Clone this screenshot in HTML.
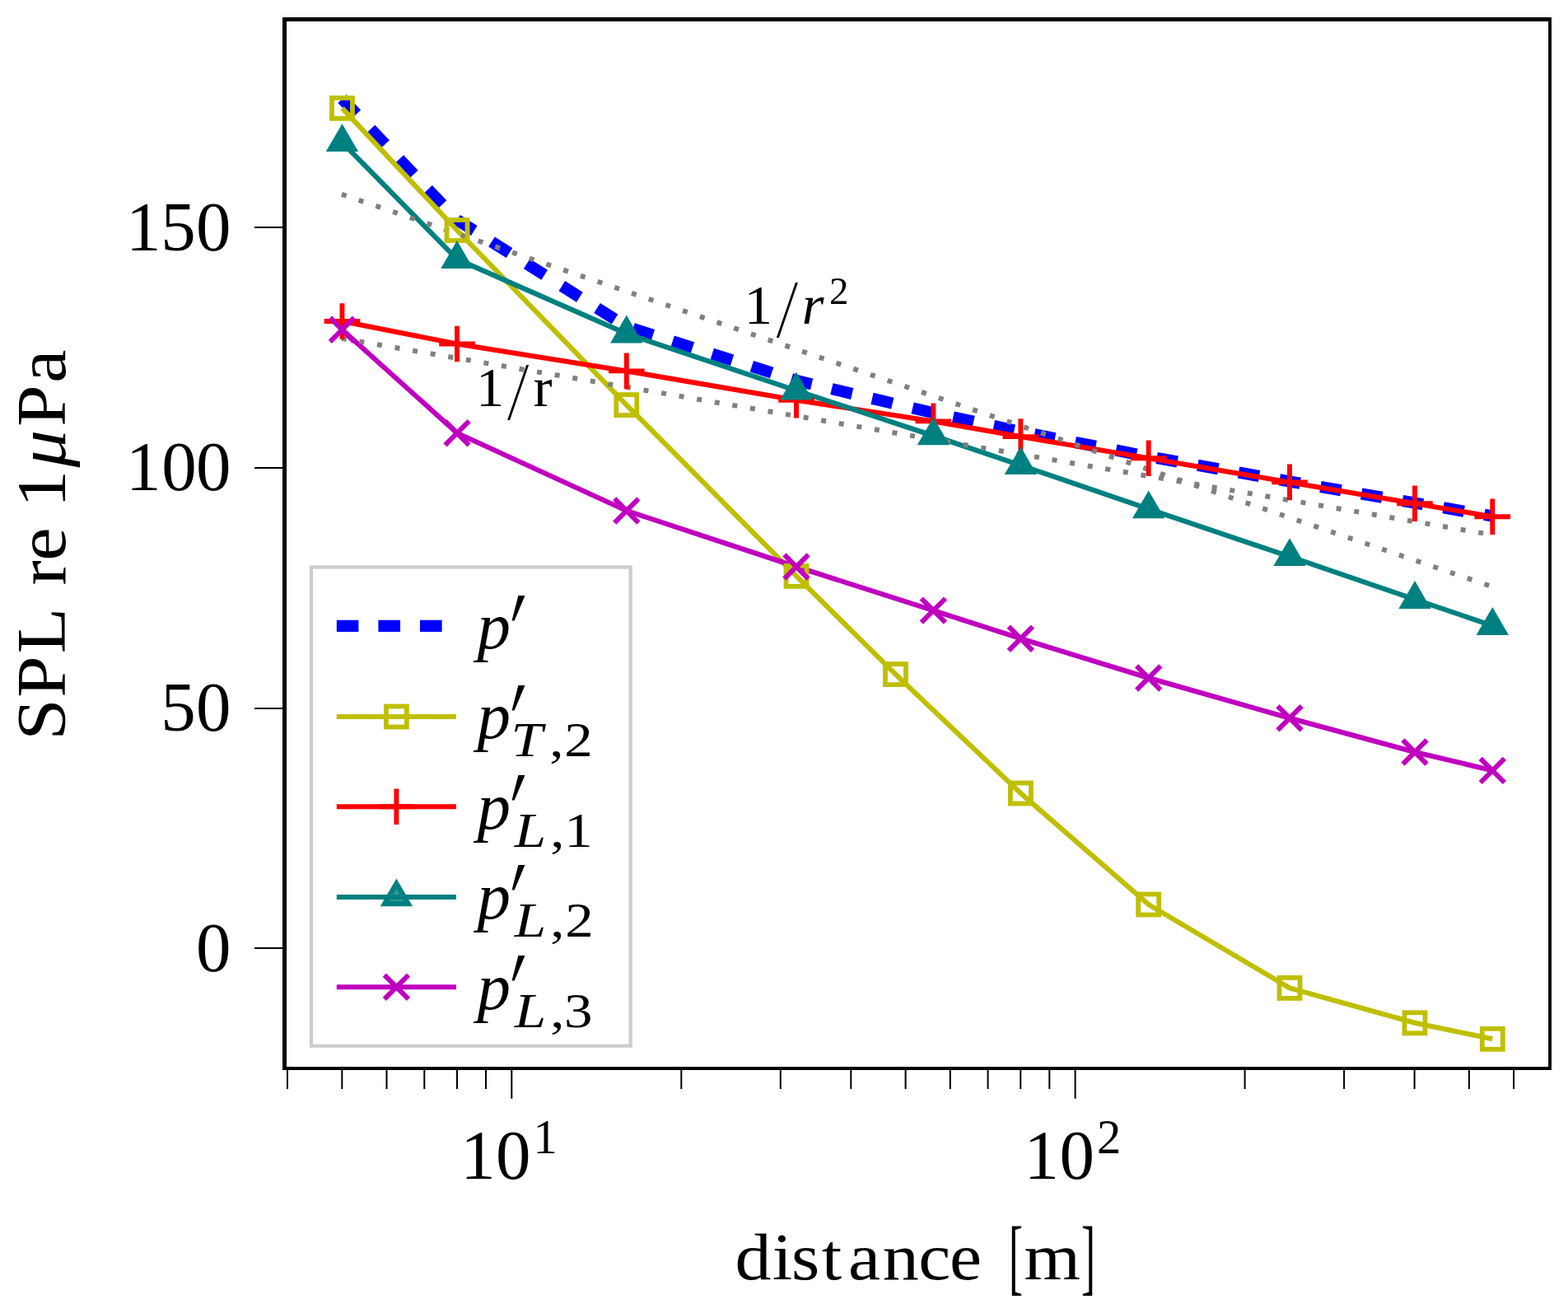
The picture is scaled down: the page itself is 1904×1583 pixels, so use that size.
<!DOCTYPE html>
<html lang="en"><head><meta charset="utf-8">
<style>html,body{margin:0;padding:0;background:#fff}body{width:1904px;height:1583px;overflow:hidden}svg{display:block}text{font-family:"Liberation Serif","DejaVu Serif",serif;fill:#000;white-space:pre}.i{font-style:italic}</style>
</head><body>
<svg width="1904" height="1583" viewBox="0 0 1904 1583">
<rect width="1904" height="1583" fill="#fff"/>
<g fill="none" stroke-linejoin="miter" stroke-linecap="butt">
<polyline points="415.45,120 555,267 760.8,396.5 967,462 1133.4,501.3 1239.4,524 1394.7,554.3 1566,584.5 1718,610.5 1812.3,626.5" stroke="#0000ff" stroke-width="14.2" stroke-dasharray="25.45 25.0"/>
<polyline points="415.45,131.4 555,279.5 760.8,491.6 967,699.4 1087.5,818.6 1239.4,963 1394.7,1098 1566,1199.4 1718,1241.8 1812.3,1261.3" stroke="#bfbf00" stroke-width="6.1"/>
<polyline points="415.45,390 555,417.5 760.8,450.4 967,485.7 1133.4,511.4 1239.4,530.1 1394.7,556.2 1566,585.4 1718,611.2 1812.3,627.2" stroke="#ff0000" stroke-width="6.1"/>
<polyline points="415.45,172.8 555,314.6 760.8,405.1 967,474.1 1133.4,529 1239.4,564.8 1394.7,617.9 1566,675.7 1718,727.6 1812.3,759.6" stroke="#008080" stroke-width="6.1"/>
<polyline points="415.45,400.3 555,525.7 760.8,620 967,688 1133.4,741.1 1239.4,775.2 1394.7,823 1566,871.8 1718,913 1812.3,935.4" stroke="#bf00bf" stroke-width="6.1"/>
<line x1="414.96" y1="235.83" x2="1812.3" y2="712.32" stroke="#808080" stroke-width="6" stroke-dasharray="6 15.88"/>
<line x1="414.84" y1="410.9" x2="1812.3" y2="649.3" stroke="#808080" stroke-width="6" stroke-dasharray="6 15.88"/>
<rect x="402.95" y="118.9" width="25" height="25" stroke="#bfbf00" stroke-width="5.8"/><rect x="542.5" y="267" width="25" height="25" stroke="#bfbf00" stroke-width="5.8"/><rect x="748.3" y="479.1" width="25" height="25" stroke="#bfbf00" stroke-width="5.8"/><rect x="954.5" y="686.9" width="25" height="25" stroke="#bfbf00" stroke-width="5.8"/><rect x="1075" y="806.1" width="25" height="25" stroke="#bfbf00" stroke-width="5.8"/><rect x="1226.9" y="950.5" width="25" height="25" stroke="#bfbf00" stroke-width="5.8"/><rect x="1382.2" y="1085.5" width="25" height="25" stroke="#bfbf00" stroke-width="5.8"/><rect x="1553.5" y="1186.9" width="25" height="25" stroke="#bfbf00" stroke-width="5.8"/><rect x="1705.5" y="1229.3" width="25" height="25" stroke="#bfbf00" stroke-width="5.8"/><rect x="1799.8" y="1248.8" width="25" height="25" stroke="#bfbf00" stroke-width="5.8"/>
<path d="M393.65 390H437.25M415.45 368.2V411.8" stroke="#ff0000" stroke-width="5.9"/><path d="M533.2 417.5H576.8M555 395.7V439.3" stroke="#ff0000" stroke-width="5.9"/><path d="M739 450.4H782.6M760.8 428.6V472.2" stroke="#ff0000" stroke-width="5.9"/><path d="M945.2 485.7H988.8M967 463.9V507.5" stroke="#ff0000" stroke-width="5.9"/><path d="M1111.6 511.4H1155.2M1133.4 489.6V533.2" stroke="#ff0000" stroke-width="5.9"/><path d="M1217.6 530.1H1261.2M1239.4 508.3V551.9" stroke="#ff0000" stroke-width="5.9"/><path d="M1372.9 556.2H1416.5M1394.7 534.4V578" stroke="#ff0000" stroke-width="5.9"/><path d="M1544.2 585.4H1587.8M1566 563.6V607.2" stroke="#ff0000" stroke-width="5.9"/><path d="M1696.2 611.2H1739.8M1718 589.4V633" stroke="#ff0000" stroke-width="5.9"/><path d="M1790.5 627.2H1834.1M1812.3 605.4V649" stroke="#ff0000" stroke-width="5.9"/>
<path d="M415.45 150.3L435.15 184.1L395.75 184.1Z" fill="#008080"/><path d="M555 292.1L574.7 325.9L535.3 325.9Z" fill="#008080"/><path d="M760.8 382.6L780.5 416.4L741.1 416.4Z" fill="#008080"/><path d="M967 451.6L986.7 485.4L947.3 485.4Z" fill="#008080"/><path d="M1133.4 506.5L1153.1 540.3L1113.7 540.3Z" fill="#008080"/><path d="M1239.4 542.3L1259.1 576.1L1219.7 576.1Z" fill="#008080"/><path d="M1394.7 595.4L1414.4 629.2L1375 629.2Z" fill="#008080"/><path d="M1566 653.2L1585.7 687L1546.3 687Z" fill="#008080"/><path d="M1718 705.1L1737.7 738.9L1698.3 738.9Z" fill="#008080"/><path d="M1812.3 737.1L1832 770.9L1792.6 770.9Z" fill="#008080"/>
<path d="M400.85 385.7L430.05 414.9M400.85 414.9L430.05 385.7" stroke="#bf00bf" stroke-width="6"/><path d="M540.4 511.1L569.6 540.3M540.4 540.3L569.6 511.1" stroke="#bf00bf" stroke-width="6"/><path d="M746.2 605.4L775.4 634.6M746.2 634.6L775.4 605.4" stroke="#bf00bf" stroke-width="6"/><path d="M952.4 673.4L981.6 702.6M952.4 702.6L981.6 673.4" stroke="#bf00bf" stroke-width="6"/><path d="M1118.8 726.5L1148 755.7M1118.8 755.7L1148 726.5" stroke="#bf00bf" stroke-width="6"/><path d="M1224.8 760.6L1254 789.8M1224.8 789.8L1254 760.6" stroke="#bf00bf" stroke-width="6"/><path d="M1380.1 808.4L1409.3 837.6M1380.1 837.6L1409.3 808.4" stroke="#bf00bf" stroke-width="6"/><path d="M1551.4 857.2L1580.6 886.4M1551.4 886.4L1580.6 857.2" stroke="#bf00bf" stroke-width="6"/><path d="M1703.4 898.4L1732.6 927.6M1703.4 927.6L1732.6 898.4" stroke="#bf00bf" stroke-width="6"/><path d="M1797.7 920.8L1826.9 950M1797.7 950L1826.9 920.8" stroke="#bf00bf" stroke-width="6"/>
</g>
<g><text><tspan font-size="68.5" x="577.93" y="492.9">1</tspan></text><text transform="matrix(0.898 0 -0.194 1.461 616.2 508.9)" font-size="68.5">/</text><text><tspan font-size="68.5" x="647.66" y="492.9">r</tspan></text></g>
<g><text><tspan font-size="68.5" x="903.87" y="392.9">1</tspan></text><text transform="matrix(0.898 0 -0.194 1.461 943.05 408.9)" font-size="68.5">/</text><text><tspan class="i" font-size="68.5" x="973.73" y="393.3">r</tspan><tspan font-size="46.8" x="1007.01" y="368.9">2</tspan></text></g>
<rect x="378" y="688.5" width="387.6" height="581.2" fill="none" stroke="#cccccc" stroke-width="4.2"/>
<g fill="none">
<line x1="408.8" y1="759.9" x2="553.9" y2="759.9" stroke="#0000ff" stroke-width="14.2" stroke-dasharray="26.6 24"/>
<line x1="408.8" y1="870" x2="553.9" y2="870" stroke="#bfbf00" stroke-width="6.1"/>
<line x1="408.8" y1="979.2" x2="553.9" y2="979.2" stroke="#ff0000" stroke-width="6.1"/>
<line x1="408.8" y1="1089" x2="553.9" y2="1089" stroke="#008080" stroke-width="6.1"/>
<line x1="408.8" y1="1198.3" x2="553.9" y2="1198.3" stroke="#bf00bf" stroke-width="6.1"/>
<rect x="468.9" y="857.5" width="25" height="25" stroke="#bfbf00" stroke-width="5.8"/>
<path d="M459.6 979.2H503.2M481.4 957.4V1001" stroke="#ff0000" stroke-width="5.9"/>
<path d="M481.4 1066.5L501.1 1100.3L461.7 1100.3Z" fill="#008080"/>
<path d="M481.4 1078.9L490.4 1094L472.4 1094Z" fill="#339999"/>
<line x1="467.4" y1="1089" x2="495.4" y2="1089" stroke="#008080" stroke-width="6.1"/>
<path d="M466.8 1183.7L496 1212.9M466.8 1212.9L496 1183.7" stroke="#bf00bf" stroke-width="6"/>
</g>
<g><text><tspan class="i" font-size="81" x="579.5" y="786.9">p</tspan></text><text transform="matrix(0.65 0 -0.19 1 606.9 807.6)" font-size="130">′</text></g>
<g><text><tspan class="i" font-size="81" x="579.5" y="896">p</tspan></text><text transform="matrix(0.65 0 -0.19 1 606.9 916.7)" font-size="130">′</text><text transform="scale(1.15 1)" font-size="60" y="918.2"><tspan class="i" x="539.54">T</tspan><tspan x="580.29">,</tspan><tspan x="595.9">2</tspan></text></g>
<g><text><tspan class="i" font-size="81" x="579.5" y="1005.6">p</tspan></text><text transform="matrix(0.65 0 -0.19 1 606.9 1026.3)" font-size="130">′</text><text transform="scale(1.15 1)" font-size="60" y="1027.8"><tspan class="i" x="543.31">L</tspan><tspan x="581.07">,</tspan><tspan x="595.95">1</tspan></text></g>
<g><text><tspan class="i" font-size="81" x="579.5" y="1114.7">p</tspan></text><text transform="matrix(0.65 0 -0.19 1 606.9 1135.4)" font-size="130">′</text><text transform="scale(1.15 1)" font-size="60" y="1136.9"><tspan class="i" x="543.31">L</tspan><tspan x="581.07">,</tspan><tspan x="596.73">2</tspan></text></g>
<g><text><tspan class="i" font-size="81" x="579.5" y="1224.5">p</tspan></text><text transform="matrix(0.65 0 -0.19 1 606.9 1245.2)" font-size="130">′</text><text transform="scale(1.15 1)" font-size="60" y="1246.7"><tspan class="i" x="543.31">L</tspan><tspan x="581.07">,</tspan><tspan x="595.74">3</tspan></text></g>
<path fill="#000" fill-rule="evenodd" d="M343 21H1884V1299H343ZM348 26H1880.1V1295H348Z"/>
<path fill="none" stroke="#000" stroke-width="2" d="M309 276H344M309 567.9H344M309 859.9H344M309 1150.9H344M621.3 1298V1333.7M1305.6 1298V1333.7M348.99 1298V1322M415.31 1298V1322M469.49 1298V1322M515.3 1298V1322M554.98 1298V1322M589.99 1298V1322M827.29 1298V1322M947.79 1298V1322M1033.29 1298V1322M1099.61 1298V1322M1153.79 1298V1322M1199.6 1298V1322M1239.28 1298V1322M1274.29 1298V1322M1511.59 1298V1322M1632.09 1298V1322M1717.59 1298V1322M1783.91 1298V1322M1838.09 1298V1322"/>
<text><tspan font-size="85" x="152.97 195.19 237.95" y="303.8">150</tspan></text>
<text><tspan font-size="85" x="152.97 196.25 237.95" y="594.8">100</tspan></text>
<text><tspan font-size="85" x="195.19 237.95" y="887.1">50</tspan></text>
<text><tspan font-size="85" x="237.95" y="1179">0</tspan></text>
<text><tspan font-size="85" x="559.27 602.1" y="1431.2">10</tspan><tspan font-size="58.5" x="647.51" y="1400.3">1</tspan></text>
<text><tspan font-size="85" x="1243.57 1286.4" y="1431.2">10</tspan><tspan font-size="58.5" x="1331.9" y="1400.3">2</tspan></text>
<g><text transform="scale(1.1 1)" font-size="80" x="811.32 852.49 873.74 906.96 936.39 974.23 1013.77 1048.25 1083.76" y="1552.6">distance </text><text transform="matrix(0.64 0 0 1.266 1225 1559.2)" font-size="80">[</text><text transform="scale(1.1 1)" font-size="80" x="1130.44" y="1552.6">m</text><text transform="matrix(0.64 0 0 1.266 1313.05 1559.2)" font-size="80">]</text></g>
<text transform="translate(79 0) rotate(-90) scale(1.08 1)" font-size="84" y="0"><tspan x="-832.27 -784.04 -734.44 -683.12 -657.98 -630.26 -592.98 -570.73">SPL re 1</tspan><tspan class="i" x="-525.43">μ</tspan><tspan x="-479.51 -430.24">Pa</tspan></text>
</svg></body></html>
